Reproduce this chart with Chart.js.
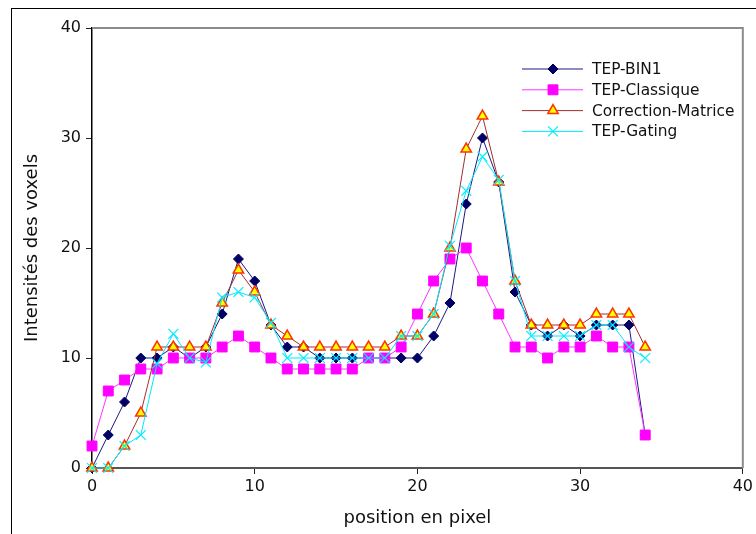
<!DOCTYPE html>
<html>
<head>
<meta charset="utf-8">
<script src="https://cdn.jsdelivr.net/npm/chart.js"></script>
<style>
  body { margin: 0; background: #fff; }
  #wrap { width: 756px; height: 534px; }
</style>
</head>
<body>
<div id="wrap"><canvas id="myChart"></canvas></div>
<script>
// positions (pixel index) and the four series
const positions = [0,1,2,3,4,5,6,7,8,9,10,11,12,13,14,15,16,17,18,19,20,21,22,23,24,25,26,27,28,29,30,31,32,33,34];
const tepBin1 = [0,3,6,10,10,11,10,11,14,19,17,13,11,11,10,10,10,10,10,10,10,12,15,24,30,26,16,13,12,13,12,13,13,13,3];
const tepClassique = [2,7,8,9,9,10,10,10,11,12,11,10,9,9,9,9,9,10,10,11,14,17,19,20,17,14,11,11,10,11,11,12,11,11,3];
const correctionMatrice = [0,0,2,5,11,11,11,11,15,18,16,13,12,11,11,11,11,11,11,12,12,14,20,29,32,26,17,13,13,13,13,14,14,14,11];
const tepGating = [0,0,2,3,9.5,12.2,10,9.6,15.5,16,15.5,13.2,10,10,10,10,10,10,10,12,12,14,20.2,25.2,28.3,26.2,17,12,12,12,12,13,13,11,10];
const xTicks = [0,10,20,30,40];
const yTicks = [0,10,20,30,40];

const ctx = document.getElementById('myChart');

function pts(values) {
    return positions.map((p, i) => ({ x: p, y: values[i] }));
}

// order: lower number is drawn on top
const series = [
    { label: 'TEP-BIN1', data: pts(tepBin1), borderColor: '#1a1a80', backgroundColor: '#000066',
      pointStyle: 'rectRot', pointRadius: 5, pointBorderColor: '#000066', pointBorderWidth: 1, order: 3 },
    { label: 'TEP-Classique', data: pts(tepClassique), borderColor: '#ff33ff', backgroundColor: '#ff00ff',
      pointStyle: 'rect', pointRadius: 7, pointBorderColor: '#ff00ff', pointBorderWidth: 1, order: 2 },
    { label: 'Correction-Matrice', data: pts(correctionMatrice), borderColor: '#a03030', backgroundColor: '#ffff00',
      pointStyle: 'triangle', pointRadius: 6, pointBorderColor: '#ff3300', pointBorderWidth: 1.5, order: 1 },
    { label: 'TEP-Gating', data: pts(tepGating), borderColor: '#00e8ff', backgroundColor: '#00e8ff',
      pointStyle: 'crossRot', pointRadius: 7, pointBorderColor: '#00eeff', pointBorderWidth: 1.2, order: 0 }
];

// gray top/right plot border + outer black frame
const frame = {
    id: 'frame',
    beforeDatasetsDraw(chart) {
        const c = chart.ctx, a = chart.chartArea;
        c.save();
        c.strokeStyle = '#8c8c8c';
        c.lineWidth = 2;
        c.beginPath();
        c.moveTo(a.left, a.top);
        c.lineTo(a.right, a.top);
        c.lineTo(a.right, a.bottom);
        c.stroke();
        c.strokeStyle = '#000';
        c.lineWidth = 1;
        c.strokeRect(11.5, 8.5, 800, 600);
        c.restore();
    }
};

// legend with a line and a marker for each series
const legendLines = {
    id: 'legendLines',
    afterDraw(chart) {
        const c = chart.ctx;
        c.save();
        c.font = '15.4px "DejaVu Sans"';
        c.textBaseline = 'middle';
        chart.data.datasets.forEach((ds, i) => {
            const y = 69 + i * 20.8;
            c.strokeStyle = ds.borderColor;
            c.lineWidth = 1;
            c.beginPath();
            c.moveTo(522, y);
            c.lineTo(583, y);
            c.stroke();
            c.fillStyle = ds.backgroundColor;
            c.strokeStyle = ds.pointBorderColor;
            c.lineWidth = ds.pointBorderWidth;
            Chart.helpers.drawPoint(c, { pointStyle: ds.pointStyle, radius: ds.pointRadius, rotation: 0, borderWidth: ds.pointBorderWidth }, 553, y);
            c.fillStyle = '#111';
            c.fillText(ds.label, 592, y + 1);
        });
        c.restore();
    }
};

new Chart(ctx, {
    type: 'line',
    data: {
        datasets: series.map(s => Object.assign({ borderWidth: 1, clip: false, tension: 0 }, s))
    },
    options: {
        responsive: true,
        maintainAspectRatio: false,
        animation: false,
        layout: { padding: { left: 0, top: 28, right: 12, bottom: 0 } },
        plugins: { legend: { display: false }, tooltip: { enabled: false } },
        scales: {
            x: {
                type: 'linear', min: 0, max: 40,
                afterBuildTicks: s => { s.ticks = xTicks.map(v => ({ value: v })); },
                afterFit: s => { s.height = 66; },
                border: { color: '#555', width: 2 },
                grid: { drawOnChartArea: false, tickLength: 6, color: '#222' },
                ticks: { color: '#111', padding: 3, font: { family: 'DejaVu Sans', size: 16 } },
                title: { display: true, text: 'position en pixel', color: '#111', padding: { top: 0, bottom: 5 },
                         font: { family: 'DejaVu Sans', size: 18 } }
            },
            y: {
                type: 'linear', min: 0, max: 40,
                afterBuildTicks: s => { s.ticks = yTicks.map(v => ({ value: v })); },
                afterFit: s => { s.width = 92; },
                border: { color: '#000', width: 1.5 },
                grid: { drawOnChartArea: false, tickLength: 6, color: '#222' },
                ticks: { color: '#111', padding: 5, font: { family: 'DejaVu Sans', size: 16 } },
                title: { display: true, text: 'Intensités des voxels', color: '#111', padding: { top: 22, bottom: 0 },
                         font: { family: 'DejaVu Sans', size: 18 } }
            }
        }
    },
    plugins: [frame, legendLines]
});
</script>
</body>
</html>
